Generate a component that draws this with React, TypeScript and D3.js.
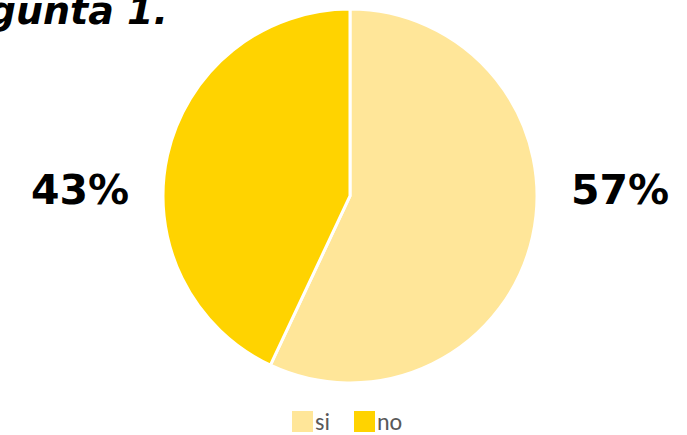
import React from "react";
import * as d3 from "d3";

const categories = ["si", "no"];
const values = [57, 43];
const labels = ["57%", "43%"];
const colors = ["#FFE699", "#FFD300"];
const title = "Pregunta 1.";

export default function App() {
  const W = 687, H = 435;
  const cx = 350, cy = 196, r = 187;
  const pie = d3.pie<number>().sort(null).startAngle(0).endAngle(2 * Math.PI)(values);
  const arc = d3.arc<d3.PieArcDatum<number>>().innerRadius(0).outerRadius(r);
  const labelPos = [[620, 190], [80, 190]];
  return (
    <svg width={W} height={H} style={{ position: "absolute", left: 0, top: 0, background: "#fff" }}>
      <text x={168} y={24} textAnchor="end" fontFamily="'DejaVu Sans', sans-serif" fontWeight="bold" fontStyle="italic" fontSize={38} fill="#000">{title}</text>
      <g transform={`translate(${cx},${cy})`}>
        {pie.map((d, i) => (
          <path key={i} d={arc(d) || ""} fill={colors[i]} stroke="#fff" strokeWidth={3} />
        ))}
      </g>
      {labels.map((l, i) => (
        <text key={i} x={labelPos[i][0]} y={labelPos[i][1]} textAnchor="middle" dominantBaseline="central" fontFamily="'DejaVu Sans', sans-serif" fontWeight="bold" fontSize={41} fill="#000">{l}</text>
      ))}
      {categories.map((c, i) => (
        <g key={c} transform={`translate(${292 + i * 62},411)`}>
          <rect width={21} height={21} fill={colors[i]} />
          <text x={23} y={19} fontFamily="Carlito, 'Liberation Sans', sans-serif" fontSize={24} fill="#595959">{c}</text>
        </g>
      ))}
    </svg>
  );
}
